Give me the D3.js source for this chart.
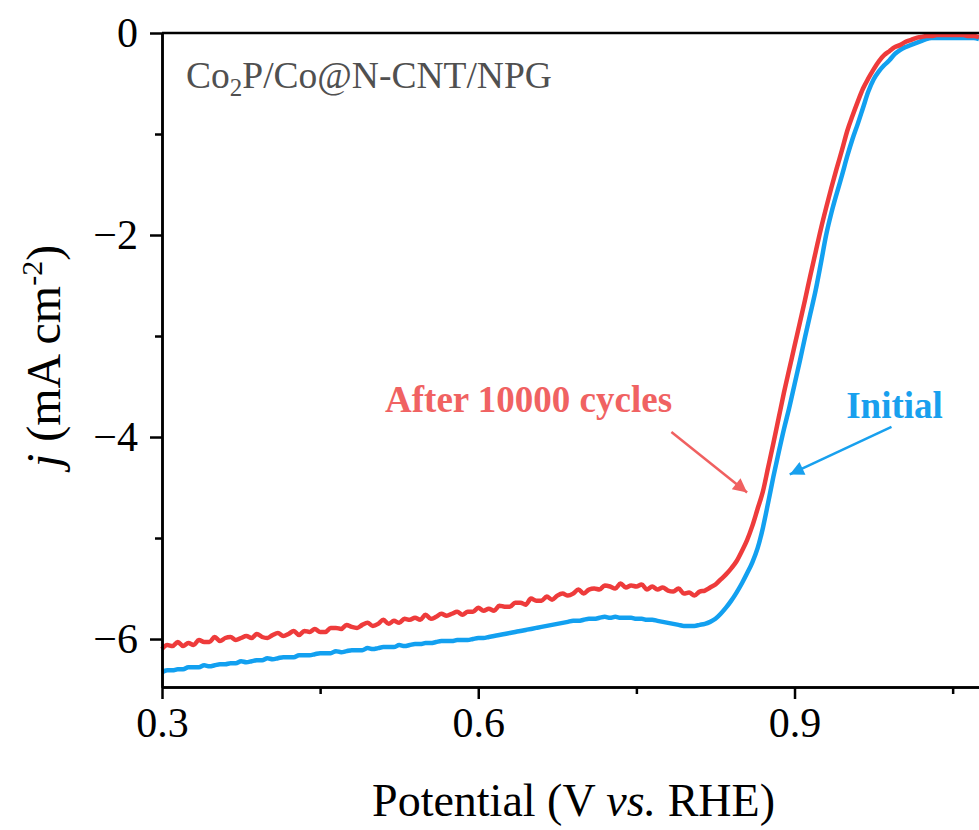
<!DOCTYPE html>
<html>
<head>
<meta charset="utf-8">
<script src="https://cdn.jsdelivr.net/npm/d3@7"></script>
<style>
  body { margin: 0; background: #fff; }
  svg text { font-family: "Liberation Serif", "Times New Roman", serif; }
</style>
</head>
<body>
<div id="chart"></div>
<script>
// Potential grid (V vs. RHE)
const potential = [
  0.300, 0.305, 0.310, 0.315, 0.320, 0.325, 0.330, 0.335, 0.340, 0.345,
  0.350, 0.355, 0.360, 0.365, 0.370, 0.375, 0.380, 0.385, 0.390, 0.395,
  0.400, 0.405, 0.410, 0.415, 0.420, 0.425, 0.430, 0.435, 0.440, 0.445,
  0.450, 0.455, 0.460, 0.465, 0.470, 0.475, 0.480, 0.485, 0.490, 0.495,
  0.500, 0.505, 0.510, 0.515, 0.520, 0.525, 0.530, 0.535, 0.540, 0.545,
  0.550, 0.555, 0.560, 0.565, 0.570, 0.575, 0.580, 0.585, 0.590, 0.595,
  0.600, 0.605, 0.610, 0.615, 0.620, 0.625, 0.630, 0.635, 0.640, 0.645,
  0.650, 0.655, 0.660, 0.665, 0.670, 0.675, 0.680, 0.685, 0.690, 0.695,
  0.700, 0.705, 0.710, 0.715, 0.720, 0.725, 0.730, 0.735, 0.740, 0.745,
  0.750, 0.755, 0.760, 0.765, 0.770, 0.775, 0.780, 0.785, 0.790, 0.795,
  0.800, 0.805, 0.810, 0.815, 0.820, 0.825, 0.830, 0.835, 0.840, 0.845,
  0.850, 0.855, 0.860, 0.865, 0.870, 0.875, 0.880, 0.885, 0.890, 0.895,
  0.900, 0.905, 0.910, 0.915, 0.920, 0.925, 0.930, 0.935, 0.940, 0.945,
  0.950, 0.955, 0.960, 0.965, 0.970, 0.975, 0.980, 0.985, 0.990, 0.995,
  1.000, 1.005, 1.010, 1.015, 1.020, 1.025, 1.030, 1.035, 1.040, 1.045,
  1.050, 1.055, 1.060, 1.065, 1.070, 1.075
];

// Initial LSV (mA cm-2)
const initialCurrent = [
  -6.33, -6.31, -6.31, -6.30, -6.30, -6.28, -6.28, -6.28, -6.26, -6.27,
  -6.26, -6.25, -6.25, -6.24, -6.24, -6.22, -6.23, -6.22, -6.21, -6.21,
  -6.19, -6.20, -6.19, -6.18, -6.18, -6.18, -6.16, -6.16, -6.16, -6.15,
  -6.14, -6.14, -6.14, -6.12, -6.13, -6.12, -6.11, -6.11, -6.11, -6.09,
  -6.10, -6.09, -6.08, -6.08, -6.08, -6.06, -6.07, -6.06, -6.05, -6.05,
  -6.04, -6.04, -6.03, -6.02, -6.02, -6.02, -6.01, -6.01, -6.01, -6.00,
  -5.99, -5.99, -5.98, -5.97, -5.96, -5.95, -5.94, -5.93, -5.92, -5.91,
  -5.90, -5.89, -5.88, -5.87, -5.86, -5.85, -5.84, -5.83, -5.82, -5.82,
  -5.81, -5.80, -5.80, -5.79, -5.78, -5.79, -5.78, -5.79, -5.79, -5.79,
  -5.80, -5.80, -5.81, -5.81, -5.82, -5.83, -5.84, -5.85, -5.86, -5.87,
  -5.87, -5.87, -5.86, -5.85, -5.83, -5.80, -5.75, -5.69, -5.62, -5.54,
  -5.45, -5.35, -5.24, -5.10, -4.90, -4.65, -4.39, -4.15, -3.92, -3.71,
  -3.48, -3.25, -3.01, -2.78, -2.55, -2.28, -2.00, -1.78, -1.59, -1.41,
  -1.22, -1.05, -0.90, -0.74, -0.58, -0.46, -0.38, -0.32, -0.27, -0.21,
  -0.17, -0.14, -0.12, -0.10, -0.08, -0.06, -0.05, -0.05, -0.05, -0.05,
  -0.05, -0.05, -0.05, -0.05, -0.05, -0.06
];

// After 10000 cycles (mA cm-2)
const cycledCurrent = [
  -6.10, -6.06, -6.07, -6.03, -6.07, -6.04, -6.06, -6.01, -6.03, -6.03,
  -5.98, -6.02, -5.99, -5.98, -6.01, -5.99, -5.97, -5.99, -5.95, -5.98,
  -5.99, -5.96, -5.94, -5.97, -5.95, -5.92, -5.96, -5.92, -5.93, -5.90,
  -5.93, -5.93, -5.89, -5.89, -5.90, -5.86, -5.88, -5.89, -5.86, -5.84,
  -5.87, -5.85, -5.81, -5.85, -5.82, -5.84, -5.80, -5.81, -5.79, -5.81,
  -5.76, -5.80, -5.78, -5.75, -5.77, -5.75, -5.73, -5.76, -5.73, -5.73,
  -5.69, -5.72, -5.70, -5.72, -5.67, -5.68, -5.68, -5.64, -5.64, -5.66,
  -5.60, -5.62, -5.62, -5.58, -5.61, -5.57, -5.55, -5.57, -5.55, -5.51,
  -5.55, -5.51, -5.50, -5.51, -5.47, -5.48, -5.50, -5.45, -5.49, -5.47,
  -5.48, -5.46, -5.51, -5.48, -5.51, -5.49, -5.52, -5.53, -5.50, -5.55,
  -5.54, -5.57, -5.53, -5.52, -5.49, -5.46, -5.41, -5.36, -5.30, -5.23,
  -5.13, -5.02, -4.88, -4.71, -4.54, -4.30, -4.06, -3.81, -3.56, -3.33,
  -3.10, -2.87, -2.64, -2.40, -2.17, -1.94, -1.73, -1.53, -1.34, -1.16,
  -0.97, -0.82, -0.68, -0.55, -0.45, -0.36, -0.28, -0.22, -0.18, -0.14,
  -0.12, -0.09, -0.07, -0.05, -0.04, -0.03, -0.03, -0.02, -0.02, -0.02,
  -0.02, -0.02, -0.02, -0.03, -0.03, -0.04
];

const xTicks = [0.3, 0.6, 0.9];
const xMinorTicks = [0.45, 0.75, 1.05];
const yTicks = [0, -2, -4, -6];
const yMinorTicks = [-1, -3, -5];

const width = 979, height = 830;
const margin = { top: 33, right: 0, bottom: 143, left: 162 };

const svg = d3.select("#chart").append("svg")
    .attr("width", width)
    .attr("height", height);

const x = d3.scaleLinear()
    .domain([0.3, 1.075])
    .range([margin.left, width - margin.right]);

const y = d3.scaleLinear()
    .domain([-6.475, 0])
    .range([height - margin.bottom, margin.top]);

const initialColor = "#12a0f0";
const cycledColor = "#ee3b3b";

// lines
const line = d3.line()
    .x((d, i) => x(potential[i]))
    .y(d => y(d))
    .curve(d3.curveMonotoneX);

svg.append("path")
    .datum(initialCurrent)
    .attr("fill", "none")
    .attr("stroke", initialColor)
    .attr("stroke-width", 4.5)
    .attr("stroke-linejoin", "round")
    .attr("d", line);

svg.append("path")
    .datum(cycledCurrent)
    .attr("fill", "none")
    .attr("stroke", cycledColor)
    .attr("stroke-width", 4.5)
    .attr("stroke-linejoin", "round")
    .attr("d", line);

// axes
svg.append("g")
    .attr("transform", `translate(0,${height - margin.bottom})`)
    .call(d3.axisBottom(x).tickValues(xTicks).tickFormat(d3.format(".1f"))
        .tickSize(12).tickSizeOuter(0).tickPadding(8));

svg.append("g")
    .attr("transform", `translate(0,${height - margin.bottom})`)
    .call(d3.axisBottom(x).tickValues(xMinorTicks).tickFormat("")
        .tickSize(7).tickSizeOuter(0));

svg.append("g")
    .attr("transform", `translate(${margin.left},0)`)
    .call(d3.axisLeft(y).tickValues(yTicks).tickFormat(d3.format("d"))
        .tickSize(12).tickSizeOuter(0).tickPadding(12));

svg.append("g")
    .attr("transform", `translate(${margin.left},0)`)
    .call(d3.axisLeft(y).tickValues(yMinorTicks).tickFormat("")
        .tickSize(7).tickSizeOuter(0));

svg.selectAll(".domain, .tick line")
    .attr("stroke", "#000")
    .attr("stroke-width", 2.5);

svg.selectAll(".tick text")
    .attr("font-size", "42px")
    .attr("fill", "#000");

// top frame line
svg.append("line")
    .attr("x1", margin.left).attr("x2", width)
    .attr("y1", margin.top).attr("y2", margin.top)
    .attr("stroke", "#000")
    .attr("stroke-width", 2.5);

// axis titles
const xTitle = svg.append("text")
    .attr("x", (margin.left + 985) / 2)
    .attr("y", 816)
    .attr("text-anchor", "middle")
    .attr("font-size", "46px")
    .attr("fill", "#000");
xTitle.append("tspan").text("Potential (V ");
xTitle.append("tspan").attr("font-style", "italic").text("vs.");
xTitle.append("tspan").text(" RHE)");

const yTitle = svg.append("text")
    .attr("transform", `translate(60,356) rotate(-90)`)
    .attr("text-anchor", "middle")
    .attr("font-size", "48px")
    .attr("fill", "#000");
yTitle.append("tspan").attr("font-style", "italic").text("j");
yTitle.append("tspan").text(" (mA cm");
yTitle.append("tspan").attr("font-size", "30px").attr("dy", -18).text("-2");
yTitle.append("tspan").attr("dy", 18).text(")");

// sample label
const sample = svg.append("text")
    .attr("x", x(0.3228))
    .attr("y", y(-0.545))
    .attr("font-size", "37.5px")
    .attr("fill", "#505050");
sample.append("tspan").text("Co");
sample.append("tspan").attr("font-size", "25px").attr("dy", 8).text("2");
sample.append("tspan").attr("dy", -8).text("P/Co@N-CNT/NPG");

// annotations
const defs = svg.append("defs");
function arrowHead(id, color) {
    defs.append("marker")
        .attr("id", id)
        .attr("viewBox", "0 0 10 10")
        .attr("refX", 10).attr("refY", 5)
        .attr("markerUnits", "userSpaceOnUse")
        .attr("markerWidth", 18).attr("markerHeight", 14)
        .attr("orient", "auto")
      .append("path")
        .attr("d", "M0,0 L10,5 L0,10 Z")
        .attr("fill", color);
}
arrowHead("arrow-red", "#f06060");
arrowHead("arrow-blue", "#18a0ee");

svg.append("line")
    .attr("x1", x(0.7832)).attr("y1", y(-3.95))
    .attr("x2", x(0.855)).attr("y2", y(-4.55))
    .attr("stroke", "#f06060")
    .attr("stroke-width", 2.5)
    .attr("marker-end", "url(#arrow-red)");

svg.append("line")
    .attr("x1", x(0.992)).attr("y1", y(-3.90))
    .attr("x2", x(0.8955)).attr("y2", y(-4.37))
    .attr("stroke", "#18a0ee")
    .attr("stroke-width", 2.5)
    .attr("marker-end", "url(#arrow-blue)");

svg.append("text")
    .attr("x", x(0.5116))
    .attr("y", y(-3.752))
    .attr("font-size", "37px")
    .attr("font-weight", "bold")
    .attr("fill", "#f06262")
    .text("After 10000 cycles");

svg.append("text")
    .attr("x", x(0.949))
    .attr("y", y(-3.81))
    .attr("font-size", "37px")
    .attr("font-weight", "bold")
    .attr("fill", "#18a0ee")
    .text("Initial");
</script>
</body>
</html>
